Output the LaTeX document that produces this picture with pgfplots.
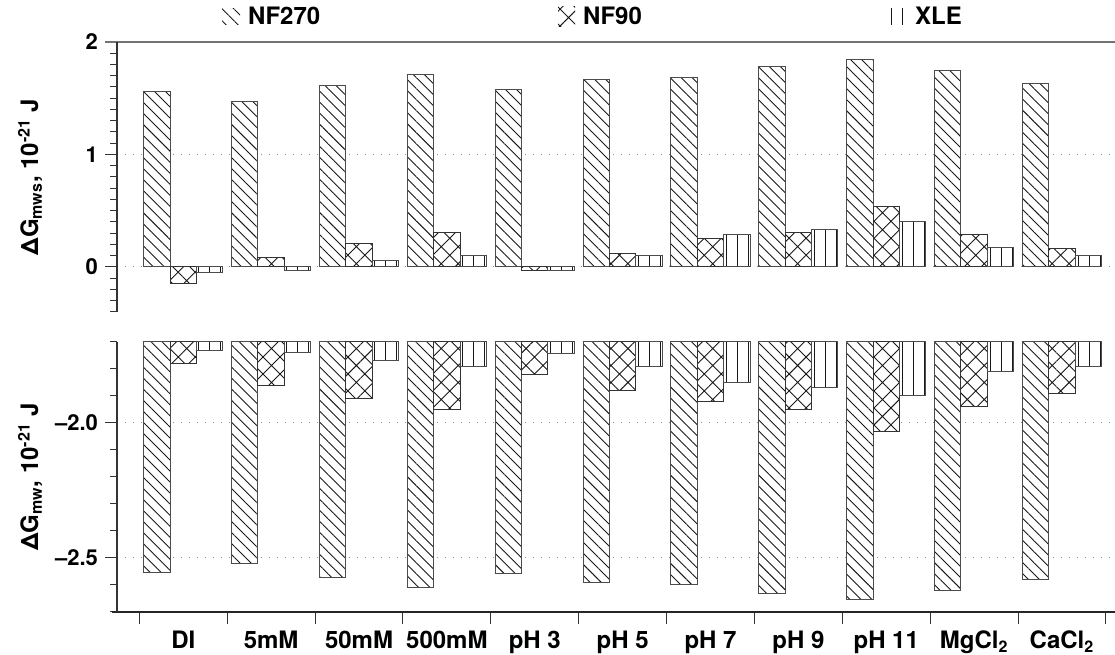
\documentclass[border=0pt]{standalone}
\usepackage{pgfplots}
\pgfplotsset{compat=1.18}
\usepackage{pgfplotstable}
\usetikzlibrary{patterns.meta}
\usepackage{fontspec}
\setmainfont{TeX Gyre Heros}

\pgfplotstableread{
x nf270 nf90 xle
0 1.56 -0.15 -0.05
1 1.47 0.08 -0.035
2 1.61 0.21 0.06
3 1.71 0.31 0.10
4 1.58 -0.03 -0.03
5 1.67 0.12 0.10
6 1.68 0.25 0.29
7 1.78 0.31 0.33
8 1.84 0.54 0.40
9 1.75 0.29 0.17
10 1.63 0.16 0.10
}\topdata

\pgfplotstableread{
x nf270 nf90 xle
0 -2.552 -1.779 -1.731
1 -2.521 -1.860 -1.740
2 -2.572 -1.911 -1.770
3 -2.611 -1.949 -1.790
4 -2.557 -1.821 -1.741
5 -2.589 -1.881 -1.790
6 -2.600 -1.920 -1.850
7 -2.632 -1.950 -1.870
8 -2.652 -2.031 -1.900
9 -2.620 -1.940 -1.810
10 -2.580 -1.889 -1.790
}\botdata

\tikzset{
  hA/.style={fill=white, draw=black!70, line width=0.5pt,
    postaction={pattern={Lines[angle=-45,distance=3.9pt,line width=0.45pt]}, pattern color=black!90}},
  hB/.style={fill=white, draw=black!80, line width=0.5pt,
    postaction={pattern={Hatch[angle=45,distance=6pt,line width=0.45pt]}, pattern color=black!90}},
  hC/.style={fill=white, draw=black!70, line width=0.5pt,
    postaction={pattern={Lines[angle=90,distance=5.5pt,line width=0.45pt]}, pattern color=black!90}},
}

\newcommand{\legA}{\tikz[baseline=-0.6ex]\path[pattern={Lines[angle=-45,distance=4.2pt,line width=0.45pt]}, pattern color=black!90] (0pt,-4pt) rectangle (9pt,4pt);}
\newcommand{\legB}{\tikz[baseline=-0.6ex]\path[pattern={Hatch[angle=45,distance=6pt,line width=0.45pt]}, pattern color=black!90] (0pt,-5pt) rectangle (8.5pt,5pt);}
\newcommand{\legC}{\tikz[baseline=-0.6ex]\path[pattern={Lines[angle=90,distance=5.5pt,line width=0.45pt]}, pattern color=black!90] (0pt,-4pt) rectangle (9.5pt,4pt);}

\pgfplotsset{
  common/.style={
    width=499pt, height=135pt, scale only axis,
    xmin=-0.754, xmax=10.603,
    ybar, bar width=0.3,
    axis y line*=left,
    tick align=outside,
    major tick length=6pt, minor tick length=3.5pt,
    every tick/.style={black!80, line width=0.5pt},
    y axis line style={black!80, line width=0.6pt},
    ymajorgrids,
    grid style={black!45, line width=0.5pt, dash pattern=on 0.5pt off 3.5pt},
    yticklabel style={font=\bfseries\fontsize{11}{13}\selectfont},
    ylabel style={font=\bfseries\fontsize{12}{14}\selectfont, at={(axis description cs:-0.087,0.5)}, anchor=center},
  }
}

\begin{document}
\begin{tikzpicture}
\path[use as bounding box] (0,0) rectangle (557.5pt,327pt);

\begin{axis}[common,
  at={(58.5pt,171pt)}, anchor=south west,
  ymin=-0.4, ymax=2,
  axis x line*=top,
  x axis line style={black!55, line width=0.6pt, shorten <=-6pt},
  xtick=\empty,
  ytick={0,1,2}, yticklabels={0,1,2},
  minor ytick={-0.4,-0.3,-0.2,-0.1,0.1,0.2,0.3,0.4,0.5,0.6,0.7,0.8,0.9,1.1,1.2,1.3,1.4,1.5,1.6,1.7,1.8,1.9},
  ylabel={ΔG\textsubscript{mws}, 10\textsuperscript{-21} J},
  legend columns=3,
  legend cell align=left,
  legend style={at={(axis description cs:0.101,1.093)}, anchor=west, draw=none, fill=none,
    font=\bfseries\fontsize{12}{14}\selectfont, inner sep=0pt,
    /tikz/every even column/.append style={column sep=0pt}},
]
\addlegendimage{empty legend}
\addlegendentry{\makebox[164pt][l]{\legA\hspace{4pt}NF270}}
\addlegendimage{empty legend}
\addlegendentry{\makebox[161pt][l]{\legB\hspace{4pt}NF90}}
\addlegendimage{empty legend}
\addlegendentry{\legC\hspace{4pt}XLE}
\addplot[hA, bar shift=-0.3] table[x=x,y=nf270]{\topdata};
\addplot[hB, bar shift=0] table[x=x,y=nf90]{\topdata};
\addplot[hC, bar shift=0.3] table[x=x,y=xle]{\topdata};
\end{axis}

\begin{axis}[common,
  at={(58.5pt,21pt)}, anchor=south west,
  ymin=-2.7, ymax=-1.7,
  axis x line*=bottom,
  x axis line style={black!85, line width=0.6pt, shorten <=-2.5pt},
  xtick={-0.5,0.5,...,10.5},
  xticklabels={DI,5mM,50mM,500mM,pH 3,pH 5,pH 7,pH 9,pH 11,MgCl\textsubscript{2},CaCl\textsubscript{2},{}},
  xticklabel style={font=\bfseries\fontsize{12}{14}\selectfont, xshift=21.97pt},
  ytick={-2.5,-2.0}, yticklabels={–2.5,–2.0},
  minor ytick={-2.7,-2.6,-2.4,-2.3,-2.2,-2.1,-1.9,-1.8,-1.7},
  ylabel={ΔG\textsubscript{mw}, 10\textsuperscript{-21} J},
]
\addplot[hA, bar shift=-0.3] table[x=x,y=nf270]{\botdata};
\addplot[hB, bar shift=0] table[x=x,y=nf90]{\botdata};
\addplot[hC, bar shift=0.3] table[x=x,y=xle]{\botdata};
\end{axis}
\end{tikzpicture}
\end{document}
